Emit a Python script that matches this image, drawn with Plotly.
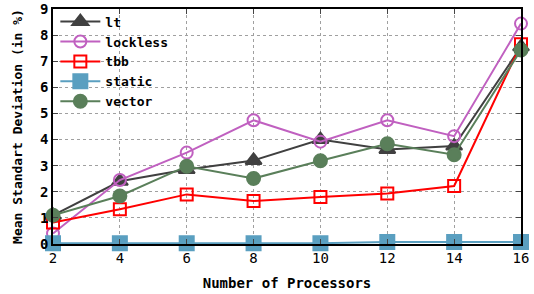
import plotly.graph_objects as go

processors = [2, 4, 6, 8, 10, 12, 14, 16]
lt = [1.1, 2.4, 2.85, 3.2, 4.0, 3.62, 3.75, 7.55]
lockless = [0.4, 2.45, 3.5, 4.74, 3.92, 4.74, 4.13, 8.44]
tbb = [0.82, 1.33, 1.9, 1.65, 1.8, 1.93, 2.22, 7.65]
static = [0.03, 0.03, 0.03, 0.03, 0.03, 0.08, 0.08, 0.08]
vector = [1.1, 1.84, 2.98, 2.51, 3.19, 3.84, 3.42, 7.43]

series = [
    ("lt", lt, "#404040", "triangle-up", 14),
    ("lockless", lockless, "#c060c0", "circle-open", 12),
    ("tbb", tbb, "#ff0000", "square-open", 12),
    ("static", static, "#5a9fc0", "square", 14),
    ("vector", vector, "#5a7f5a", "circle", 13),
]

fig = go.Figure()
for name, vals, color, sym, size in series:
    fig.add_trace(go.Scatter(
        x=processors, y=vals, name="<b>" + name + "</b>", mode="lines+markers",
        line=dict(color=color, width=2),
        marker=dict(symbol=sym, size=size, color=color,
                    line=dict(color=color, width=2)),
        cliponaxis=False,
    ))

font = "DejaVu Sans Mono"
axis_common = dict(
    ticks="inside", ticklen=5, showline=True, linecolor="black",
    linewidth=1.5, mirror="ticks", showgrid=True, gridcolor="#a0a0a0",
    griddash="dot", gridwidth=1, zeroline=False, automargin=False,
    tickfont=dict(family=font, size=14), ticklabeloverflow="allow",
    tickprefix="<b>", ticksuffix="</b>", layer="above traces",
)
fig.update_layout(
    width=534, height=294,
    margin=dict(l=53, r=13, t=7, b=50),
    plot_bgcolor="white", paper_bgcolor="white",
    font=dict(family=font, size=14, color="black"),
    showlegend=True,
    legend=dict(x=0.005, y=1.01, xanchor="left", yanchor="top",
                bgcolor="rgba(0,0,0,0)", font=dict(family=font, size=13),
                tracegroupgap=0, itemwidth=40),
    xaxis=dict(
        range=[2, 16], tickvals=processors,
        title=dict(text="<b>Number of Processors</b>", font=dict(family=font, size=14), standoff=14),
        **axis_common,
    ),
    yaxis=dict(
        range=[0, 9], dtick=1,
        title=dict(text="<b>Mean Standart Deviation (in %)</b>", font=dict(family=font, size=13), standoff=14),
        **axis_common,
    ),
)

fig.write_html("out.html", config={"displayModeBar": False},
               post_script="document.body.style.margin='0px';document.body.style.overflow='hidden';")
